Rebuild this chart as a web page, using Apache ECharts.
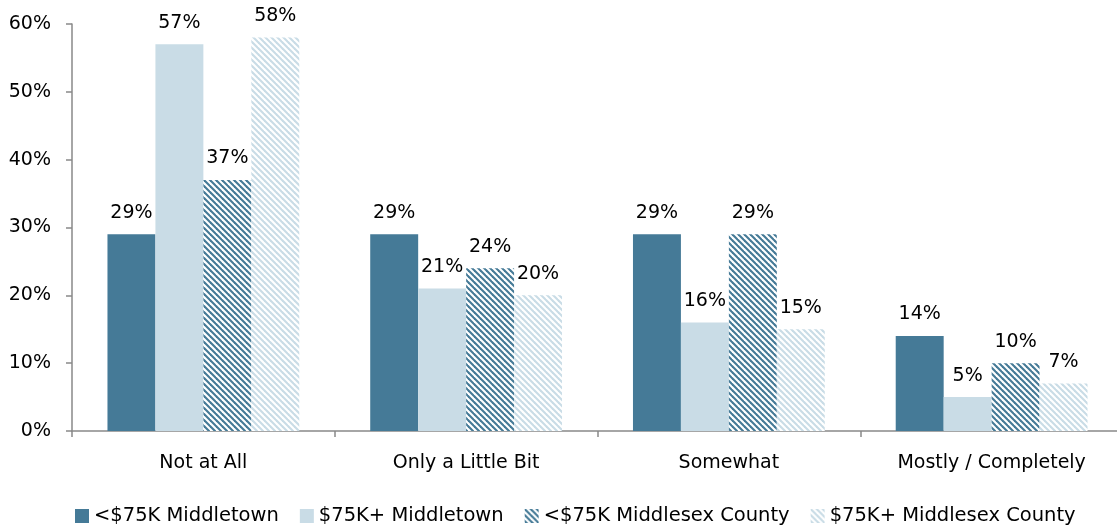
<!DOCTYPE html>
<html><head><meta charset="utf-8">
<script src="https://cdn.jsdelivr.net/npm/echarts@6/dist/echarts.min.js"></script>
<style>html,body{margin:0;padding:0;background:#fff}#c{width:1117px;height:529px}</style>
</head><body><div id="c"></div>
<script>
const categories = ['Not at All', 'Only a Little Bit', 'Somewhat', 'Mostly / Completely'];
const seriesNames = ['<$75K Middletown', '$75K+ Middletown', '<$75K Middlesex County', '$75K+ Middlesex County'];
const lowMiddletown = [29, 29, 29, 14];
const highMiddletown = [57, 21, 16, 5];
const lowCounty = [37, 24, 29, 10];
const highCounty = [58, 20, 15, 7];
const yTicks = [0, 10, 20, 30, 40, 50, 60];

const DARK = '#457A97';
const LIGHT = '#C9DCE6';
const FONT = 'DejaVu Sans';

function hatch(color) {
  const s = 6;
  const cv = document.createElement('canvas');
  cv.width = s; cv.height = s;
  const ctx = cv.getContext('2d');
  ctx.fillStyle = '#fff';
  ctx.fillRect(0, 0, s, s);
  ctx.strokeStyle = color;
  ctx.lineWidth = 2.1;
  for (let k = -1; k <= 1; k++) {
    ctx.beginPath();
    ctx.moveTo(k * s - 1, -1);
    ctx.lineTo(k * s + s + 1, s + 1);
    ctx.stroke();
  }
  return { image: cv, repeat: 'repeat' };
}

const fills = [DARK, LIGHT, hatch(DARK), hatch(LIGHT)];
const values = [lowMiddletown, highMiddletown, lowCounty, highCounty];

const chart = echarts.init(document.getElementById('c'), null, { renderer: 'canvas' });
chart.setOption({
  animation: false,
  textStyle: { fontFamily: FONT },
  grid: { left: 72, width: 1051, top: 24, bottom: 98, containLabel: false, outerBoundsMode: 'none' },
  legend: {
    bottom: -2, left: 70,
    itemWidth: 14, itemHeight: 14, itemGap: 21,
    icon: 'rect',
    textStyle: { fontFamily: FONT, fontSize: 19.5, color: '#000' },
    data: seriesNames
  },
  xAxis: {
    type: 'category',
    data: categories,
    axisLine: { lineStyle: { color: '#898989', width: 1.5 } },
    axisTick: { show: true, length: 6, lineStyle: { color: '#898989', width: 1.5 } },
    axisLabel: { color: '#000', fontSize: 19, fontFamily: FONT, margin: 23 }
  },
  yAxis: {
    type: 'value', min: 0, max: 60, interval: 10,
    axisLine: { show: true, lineStyle: { color: '#898989', width: 1.5 } },
    axisTick: { show: true, length: 6, lineStyle: { color: '#898989', width: 1.5 } },
    splitLine: { show: false },
    axisLabel: { color: '#000', fontSize: 19, fontFamily: FONT, margin: 21,
      formatter: v => yTicks.includes(v) ? v + '%' : '' }
  },
  series: values.map((vals, i) => ({
    name: seriesNames[i],
    type: 'bar',
    data: vals,
    barGap: '0%',
    barCategoryGap: '27%',
    itemStyle: { color: fills[i] },
    label: { show: true, position: 'top', distance: 12, formatter: '{c}%',
      color: '#000', fontSize: 19, fontFamily: FONT }
  }))
});
</script></body></html>
